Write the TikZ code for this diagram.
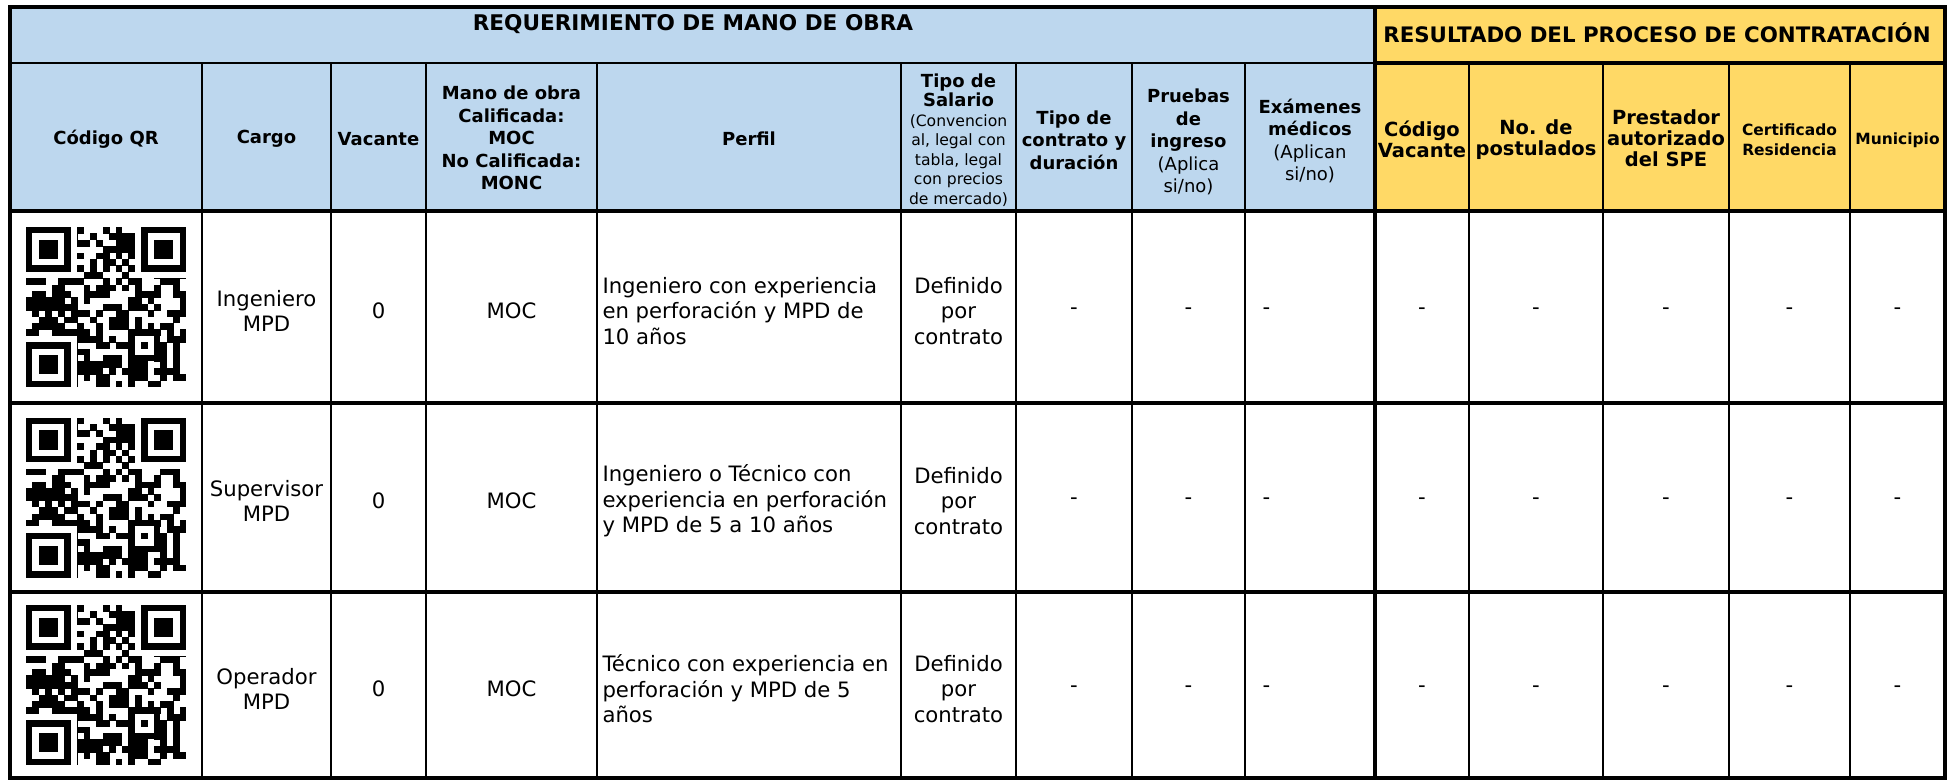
\documentclass[tikz,border=0pt]{standalone}
\usepackage{fontspec}
\setmainfont{DejaVu Sans}
\definecolor{hdrblue}{RGB}{189,215,238}
\definecolor{hdryellow}{RGB}{255,217,102}
\tikzset{every picture/.style={line width=0.75pt}}
\tikzset{
  thinline/.style={line width=1.5pt},
  midline/.style={line width=1.9pt},
  thickline/.style={line width=2.7pt, line cap=rect},
  hdr/.style={font=\bfseries\fontsize{13.5}{16.8}\selectfont, align=center, inner sep=0pt},
  hdrnote/.style={font=\fontsize{11.7}{14.6}\selectfont, align=center, inner sep=0pt},
  yhdr/.style={font=\bfseries\fontsize{14.6}{15.8}\selectfont, align=center, inner sep=0pt},
  yhdrsmall/.style={font=\bfseries\fontsize{11.6}{15}\selectfont, align=center, inner sep=0pt},
  cell/.style={font=\fontsize{15.9}{19.2}\selectfont, align=center, inner sep=0pt},
}
\newcommand{\hb}[1]{{\bfseries\fontsize{13.5}{15}\selectfont #1}}
\def\qrm{6.4}
% QR block, top left corner at (#1,#2), 25 x 25 modules
\newcommand{\qrcodeat}[2]{%
  \begin{scope}[shift={(#1,#2)}]
    \foreach \i in {0,...,24}{
      \foreach \j in {0,...,24}{
        \pgfmathsetmacro\h{437.5453*sin(\i*37.3+\j*71.9+7)}
        \pgfmathtruncatemacro\bit{ifthenelse(\i==6,1-mod(\j,2),ifthenelse(\j==6,1-mod(\i,2),(\h-floor(\h))<0.5))}
        \ifnum\bit=1 \fill (\j*\qrm,\i*\qrm) rectangle ++(1.05*\qrm,1.05*\qrm);\fi
      }
    }
    % finder patterns
    \foreach \wx/\wy in {0/0,17/0,0/17}
      \fill[white] (\wx*\qrm,\wy*\qrm) rectangle ++(8*\qrm,8*\qrm);
    \foreach \fx/\fy in {0/0,18/0,0/18}{
      \fill (\fx*\qrm,\fy*\qrm) rectangle ++(7*\qrm,7*\qrm);
      \fill[white] ({(\fx+1)*\qrm},{(\fy+1)*\qrm}) rectangle ++(5*\qrm,5*\qrm);
      \fill ({(\fx+2)*\qrm},{(\fy+2)*\qrm}) rectangle ++(3*\qrm,3*\qrm);
    }
    % alignment pattern
    \fill (16*\qrm,16*\qrm) rectangle ++(5*\qrm,5*\qrm);
    \fill[white] (17*\qrm,17*\qrm) rectangle ++(3*\qrm,3*\qrm);
    \fill (18*\qrm,18*\qrm) rectangle ++(\qrm,\qrm);
  \end{scope}}

\begin{document}
\begin{tikzpicture}[x=0.75pt,y=0.75pt,yscale=-1,xscale=1]
	\useasboundingbox (0,0) rectangle (1952,780);

	%Shape: Rectangle [header fills]
	\fill[hdrblue] (10,7) rectangle (1375,211);
	\fill[hdryellow] (1375,7) rectangle (1945,211);

	%QR codes
	\qrcodeat{26}{227}
	\qrcodeat{26}{417.5}
	\qrcodeat{26}{605}

	%Straight Lines [grid, blue part]
	\draw[thinline] (10,63) -- (1375,63);
	\foreach \x in {202,331,426,597,901,1016,1132,1245}
		\draw[thinline] (\x,63) -- (\x,778);
	%Straight Lines [grid, yellow part]
	\draw[thickline] (1375,63) -- (1945,63);
	\foreach \x in {1469,1603,1729,1850}
		\draw[midline] (\x,63) -- (\x,778);
	\foreach \y in {211,403,592}
		\draw[thickline] (10,\y) -- (1945,\y);
	\draw[thickline] (1375,7) -- (1375,778);
	\draw[thickline] (10,7) rectangle (1945,778);

	% Text Node
	\draw (693,31) node (tReq) [anchor=base, font=\bfseries\fontsize{16.2}{20}\selectfont] {REQUERIMIENTO DE MANO DE OBRA};
	% Text Node
	\draw (1657,43) node (tRes) [anchor=base, font=\bfseries\fontsize{16}{20}\selectfont] {RESULTADO DEL PROCESO DE CONTRATACIÓN};

	% Text Node
	\draw (106,139) node (hQR) [hdr] {Código QR};
	% Text Node
	\draw (266.5,139) node (hCargo) [hdr] {Cargo};
	% Text Node
	\draw (378.5,139) node (hVac) [hdr] {Vacante};
	% Text Node
	\draw (511.5,138) node (hMano) [hdr] {Mano de obra\\Calificada:\\MOC\\No Calificada:\\MONC};
	% Text Node
	\draw (749,139) node (hPerfil) [hdr] {Perfil};
	% Text Node
	\draw (958.5,140) node (hSal) [hdrnote] {\hb{Tipo de}\\\hb{Salario}\\(Convencion\\al, legal con\\tabla, legal\\con precios\\de mercado)};
	% Text Node
	\draw (1074,140) node (hTipo) [hdr] {Tipo de\\contrato y\\duración};
	% Text Node
	\draw (1188.5,142) node (hPrueba) [hdr, font=\fontsize{13.5}{16.8}\selectfont] {\textbf{Pruebas}\\\textbf{de}\\\textbf{ingreso}\\(Aplica\\si/no)};
	% Text Node
	\draw (1310,141) node (hExam) [hdr, font=\fontsize{13.5}{16.8}\selectfont] {\textbf{Exámenes}\\\textbf{médicos}\\(Aplican\\si/no)};
	% Text Node
	\draw (1422,139.5) node (yCod) [yhdr] {Código\\Vacante};
	% Text Node
	\draw (1536,139.5) node (yNum) [yhdr] {No. de\\postulados};
	% Text Node
	\draw (1666,138) node (yPrest) [yhdr] {Prestador\\autorizado\\del SPE};
	% Text Node
	\draw (1789.5,140) node (yCert) [yhdrsmall] {Certificado\\Residencia};
	% Text Node
	\draw (1897.5,140) node (yMun) [yhdrsmall] {Municipio};

	% Row 1
	\draw (266.5,311) node (cargoA) [cell] {Ingeniero\\MPD};
	\draw (378.5,311) node (vacA) [cell] {0};
	\draw (511.5,311) node (manoA) [cell] {MOC};
	\draw (602,311) node (perfilA) [cell, anchor=west, align=left] {Ingeniero con experiencia\\en perforación y MPD de\\10 años};
	\draw (958.5,311) node (salA) [cell] {Definido\\por\\contrato};
	% Row 2
	\draw (266.5,501) node (cargoB) [cell] {Supervisor\\MPD};
	\draw (378.5,501) node (vacB) [cell] {0};
	\draw (511.5,501) node (manoB) [cell] {MOC};
	\draw (602,501) node (perfilB) [cell, anchor=west, align=left] {Ingeniero o Técnico con\\experiencia en perforación\\y MPD de 5 a 10 años};
	\draw (958.5,501) node (salB) [cell] {Definido\\por\\contrato};
	% Row 3
	\draw (266.5,689) node (cargoC) [cell] {Operador\\MPD};
	\draw (378.5,689) node (vacC) [cell] {0};
	\draw (511.5,689) node (manoC) [cell] {MOC};
	\draw (602,689) node (perfilC) [cell, anchor=west, align=left] {Técnico con experiencia en\\perforación y MPD de 5\\años};
	\draw (958.5,689) node (salC) [cell] {Definido\\por\\contrato};

	% dashes
	\foreach \y/\r in {311/A,501/B,689/C}{
		\foreach \x/\c in {1074/t,1188.5/p,1422/v,1536/n,1666/s,1789.5/r,1897.5/m}
			\draw (\x,\y) node (dash\r\c) [cell] {-};
		\draw (1262,\y) node (dash\r e) [cell, anchor=west] {-};
	}

\end{tikzpicture}
\end{document}
